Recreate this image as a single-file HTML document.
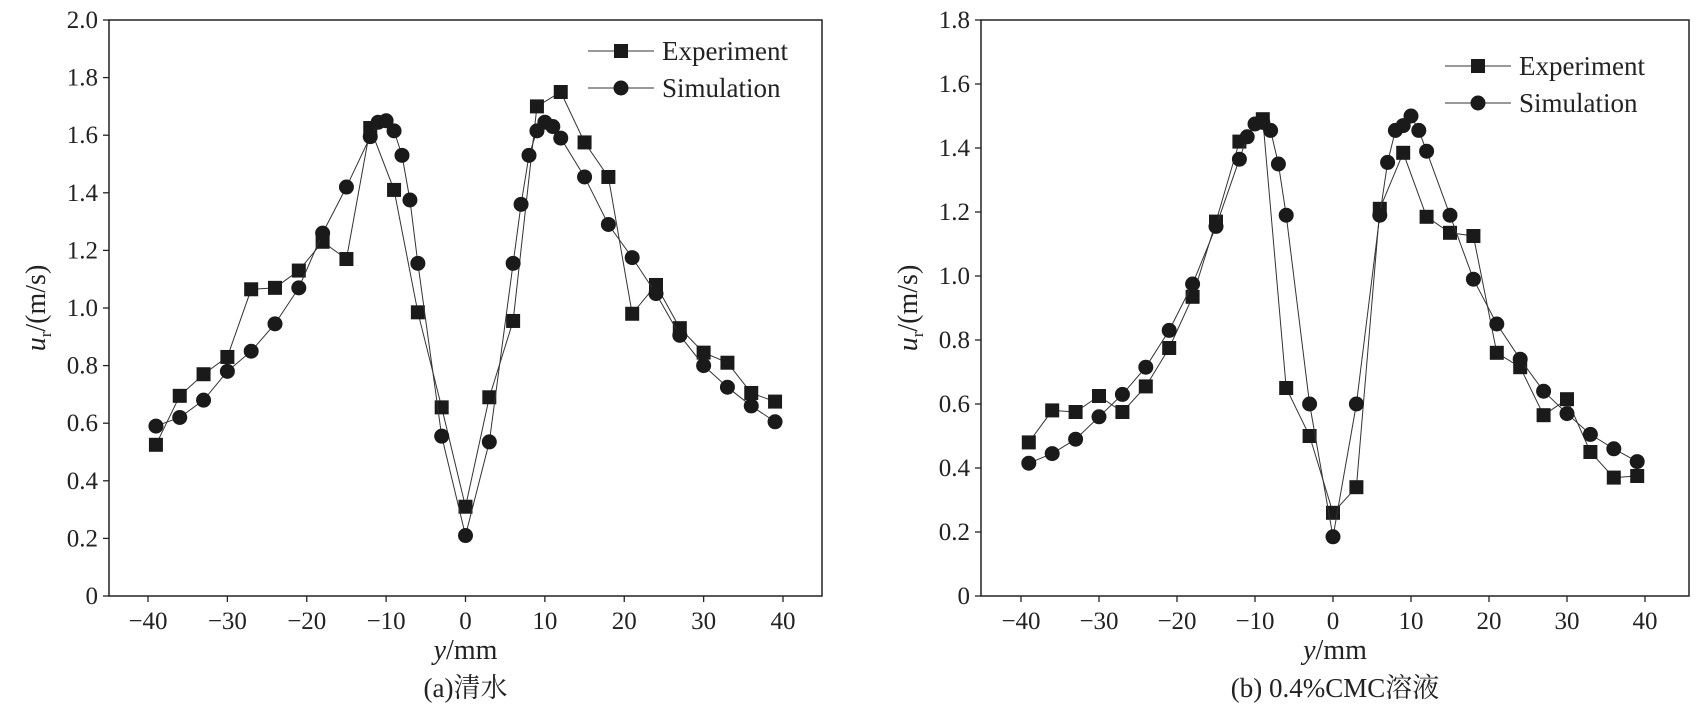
<!DOCTYPE html>
<html><head><meta charset="utf-8"><style>
html,body{margin:0;padding:0;background:#fff;}
svg{display:block;font-family:"Liberation Serif","Noto Serif CJK SC",serif;}
</style></head><body>
<svg id="chart" width="1698" height="724" viewBox="0 0 1698 724"></svg>
<script>
const xTicks=[-40,-30,-20,-10,0,10,20,30,40];
const aExpX=[-39,-36,-33,-30,-27,-24,-21,-18,-15,-12,-9,-6,-3,0,3,6,9,12,15,18,21,24,27,30,33,36,39];
const aExpY=[0.525,0.695,0.77,0.83,1.065,1.07,1.13,1.23,1.17,1.625,1.41,0.985,0.655,0.31,0.69,0.955,1.70,1.75,1.575,1.455,0.98,1.08,0.93,0.845,0.81,0.705,0.675];
const aSimX=[-39,-36,-33,-30,-27,-24,-21,-18,-15,-12,-11,-10,-9,-8,-7,-6,-3,0,3,6,7,8,9,10,11,12,15,18,21,24,27,30,33,36,39];
const aSimY=[0.59,0.62,0.68,0.78,0.85,0.945,1.07,1.26,1.42,1.595,1.645,1.65,1.615,1.53,1.375,1.155,0.555,0.21,0.535,1.155,1.36,1.53,1.615,1.645,1.63,1.59,1.455,1.29,1.175,1.05,0.905,0.80,0.725,0.66,0.605];
const bExpX=[-39,-36,-33,-30,-27,-24,-21,-18,-15,-12,-9,-6,-3,0,3,6,9,12,15,18,21,24,27,30,33,36,39];
const bExpY=[0.48,0.58,0.575,0.625,0.575,0.655,0.775,0.935,1.17,1.42,1.49,0.65,0.50,0.26,0.34,1.21,1.385,1.185,1.135,1.125,0.76,0.715,0.565,0.615,0.45,0.37,0.375];
const bSimX=[-39,-36,-33,-30,-27,-24,-21,-18,-15,-12,-11,-10,-9,-8,-7,-6,-3,0,3,6,7,8,9,10,11,12,15,18,21,24,27,30,33,36,39];
const bSimY=[0.415,0.445,0.49,0.56,0.63,0.715,0.83,0.975,1.155,1.365,1.435,1.475,1.48,1.455,1.35,1.19,0.60,0.185,0.60,1.19,1.355,1.455,1.47,1.50,1.455,1.39,1.19,0.99,0.85,0.74,0.64,0.57,0.505,0.46,0.42];
const aYTicks=["0","0.2","0.4","0.6","0.8","1.0","1.2","1.4","1.6","1.8","2.0"];
const bYTicks=["0","0.2","0.4","0.6","0.8","1.0","1.2","1.4","1.6","1.8"];

const NS="http://www.w3.org/2000/svg";
const svg=document.getElementById('chart');
function mk(tag,attrs,parent){const e=document.createElementNS(NS,tag);for(const k in attrs)e.setAttribute(k,attrs[k]);(parent||svg).appendChild(e);return e;}

function panel(p){
  const g=mk('g',{});
  
  
  const xs=v=>p.x0+(v-(-40))/80*(p.x40-p.x0);
  const ys=v=>p.bottom-v/p.ymax*(p.bottom-p.top);
  const box=mk('rect',{x:p.left,y:p.top,width:p.right-p.left,height:p.bottom-p.top,fill:'none',stroke:'#222','stroke-width':1.5},g);
  
  
  xTicks.forEach(t=>{
    const x=xs(t);
    mk('line',{x1:x,x2:x,y1:p.bottom,y2:p.bottom+6,stroke:'#222','stroke-width':1.3},g);
    const tx=mk('text',{x:x,y:p.bottom+33,'text-anchor':'middle','font-size':25,fill:'#222'},g);
    tx.textContent=(t<0?'\u2212'+(-t):t);
    
    
  });
  p.yt.forEach(t=>{
    const y=ys(parseFloat(t));
    mk('line',{x1:p.left-6,x2:p.left,y1:y,y2:y,stroke:'#222','stroke-width':1.3},g);
    const tx=mk('text',{x:p.left-11,y:y+8,'text-anchor':'end','font-size':25,fill:'#222'},g);
    tx.textContent=t;
    
    
  });
  function series(X,Y,kind,nm){
    const sg=mk('g',{},g);
    
    
    mk('polyline',{points:X.map((x,i)=>xs(x)+','+ys(Y[i])).join(' '),fill:'none',stroke:'#333','stroke-width':1},sg);
    X.forEach((x,i)=>{
      let m;
      if(kind==='sq')m=mk('rect',{x:xs(x)-7,y:ys(Y[i])-7,width:14,height:14,fill:'#1a1a1a'},sg);
      else m=mk('circle',{cx:xs(x),cy:ys(Y[i]),r:7.5,fill:'#1a1a1a'},sg);
      
      
    });
  }
  series(p.ex,p.ey,'sq','experiment-series');
  series(p.sx,p.sy,'ci','simulation-series');
  const lg=mk('g',{},g);
  
  
  [['Experiment','sq',p.ly],['Simulation','ci',p.ly+37]].forEach(([lab,k,y])=>{
    mk('line',{x1:p.lx,x2:p.lx+66,y1:y,y2:y,stroke:'#333','stroke-width':1},lg);
    const cx=p.lx+33;
    if(k==='sq')mk('rect',{x:cx-7,y:y-7,width:14,height:14,fill:'#1a1a1a'},lg);
    else mk('circle',{cx:cx,cy:y,r:7.5,fill:'#1a1a1a'},lg);
    const t=mk('text',{x:p.lx+74,y:y+9,'font-size':27,fill:'#222'},lg);
    t.textContent=lab;
    
    
  });
  const xt=mk('text',{x:(p.left+p.right)/2,y:p.bottom+63,'text-anchor':'middle','font-size':28,fill:'#222'},g);
  xt.innerHTML='<tspan font-style="italic">y</tspan>/mm';
  
  
  const cy=(p.top+p.bottom)/2;
  const yt=mk('text',{x:p.left-64,y:cy,'text-anchor':'middle','font-size':28,fill:'#222',transform:`rotate(-90 ${p.left-64} ${cy})`},g);
  yt.innerHTML='<tspan font-style="italic">u</tspan><tspan font-size="17" dy="6">r</tspan><tspan dy="-6">/(m/s)</tspan>';
  
  
  const cap=mk('text',{x:(p.left+p.right)/2,y:p.bottom+101,'text-anchor':'middle','font-size':27,fill:'#222'},g);
  cap.textContent=p.cap;
  
  
}
panel({name:'panel-a-clear-water',left:109,right:822,top:20,bottom:596,x0:148,x40:783,ymax:2.0,yt:aYTicks,
  ex:aExpX,ey:aExpY,sx:aSimX,sy:aSimY,lx:588,ly:51,cap:'(a)清水'});
panel({name:'panel-b-cmc-solution',left:981,right:1689,top:20,bottom:596,x0:1021,x40:1645,ymax:1.8,yt:bYTicks,
  ex:bExpX,ey:bExpY,sx:bSimX,sy:bSimY,lx:1445,ly:66,cap:'(b) 0.4%CMC溶液'});
</script>
</body></html>
